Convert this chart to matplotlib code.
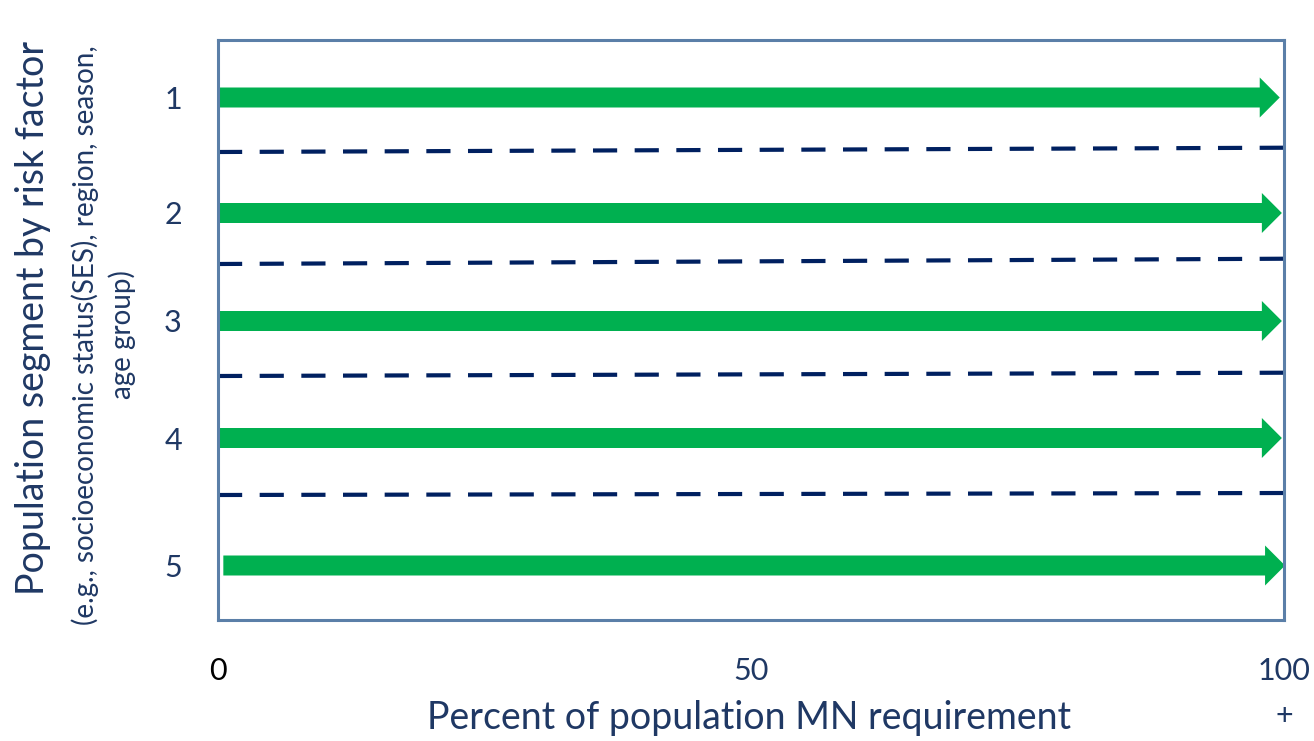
import matplotlib.pyplot as plt

GREEN = "#00B050"
NAVY = "#002060"
TEXT = "#1F3864"
FRAME = "#5B7FA8"

# rows of the chart (y measured downward from the top of the frame)
segments = ["1", "2", "3", "4", "5"]
arrow_y = [0.575, 1.73, 2.81, 3.98, 5.255]
arrow_start = [0, 0, 0, 0, 0.5]
arrow_end = [99.6, 99.8, 99.8, 99.8, 100.1]

# separators between rows, left end and right end
sep_left = [1.12, 2.24, 3.36, 4.55]
sep_right = [1.077, 2.187, 3.327, 4.53]
sep_x = [0, 100.4]

x_ticks = [0, 50, 100]
x_tick_labels = ["0", "50", "100\n+"]
x_tick_colors = ["black", TEXT, TEXT]

plt.rcParams["font.family"] = ["Lato", "DejaVu Sans"]

fig = plt.figure(figsize=(13.14, 7.41), dpi=100)
ax = fig.add_axes([218 / 1314, 1 - 620 / 741, 1066 / 1314, 580 / 741])

ax.set_xlim(0, 100)
ax.set_ylim(5.8, 0)

for y0, y1 in zip(sep_left, sep_right):
    ax.plot(sep_x, [y0, y1], color=NAVY, lw=3, dashes=(5.8, 4.2),
            solid_capstyle="butt", clip_on=False, zorder=2)

for y, x0, x1 in zip(arrow_y, arrow_start, arrow_end):
    ax.annotate("", xy=(x1, y), xytext=(x0, y), annotation_clip=False,
                arrowprops=dict(arrowstyle="simple,head_length=1.44,head_width=2.88,tail_width=1.44",
                                mutation_scale=10, color=GREEN, lw=0,
                                shrinkA=0, shrinkB=0),
                zorder=3)

for s in ax.spines.values():
    s.set_color(FRAME)
    s.set_linewidth(2.2)
    s.set_zorder(4)

ax.set_yticks(arrow_y, segments, fontsize=22, color=TEXT)
ax.set_xticks(x_ticks, x_tick_labels, fontsize=22, linespacing=1.7)
for lab, c in zip(ax.get_xticklabels(), x_tick_colors):
    lab.set_color(c)
ax.tick_params(axis="y", length=0, pad=26)
ax.tick_params(axis="x", length=0, pad=27)

fig.text(749 / 1314, 1 - 718 / 741, "Percent of population MN requirement",
         fontsize=27, color=TEXT, ha="center", va="center")
fig.text(33 / 1314, 1 - 318 / 741, "Population segment by risk factor",
         fontsize=27, color=TEXT, rotation=90, ha="center", va="center")
fig.text(104 / 1314, 1 - 335 / 741,
         "(e.g., socioeconomic status(SES), region, season,\nage group)",
         fontsize=20, color=TEXT, rotation=90, ha="center", va="center",
         multialignment="center", linespacing=1.4)

fig.savefig("out.png", dpi=100)
